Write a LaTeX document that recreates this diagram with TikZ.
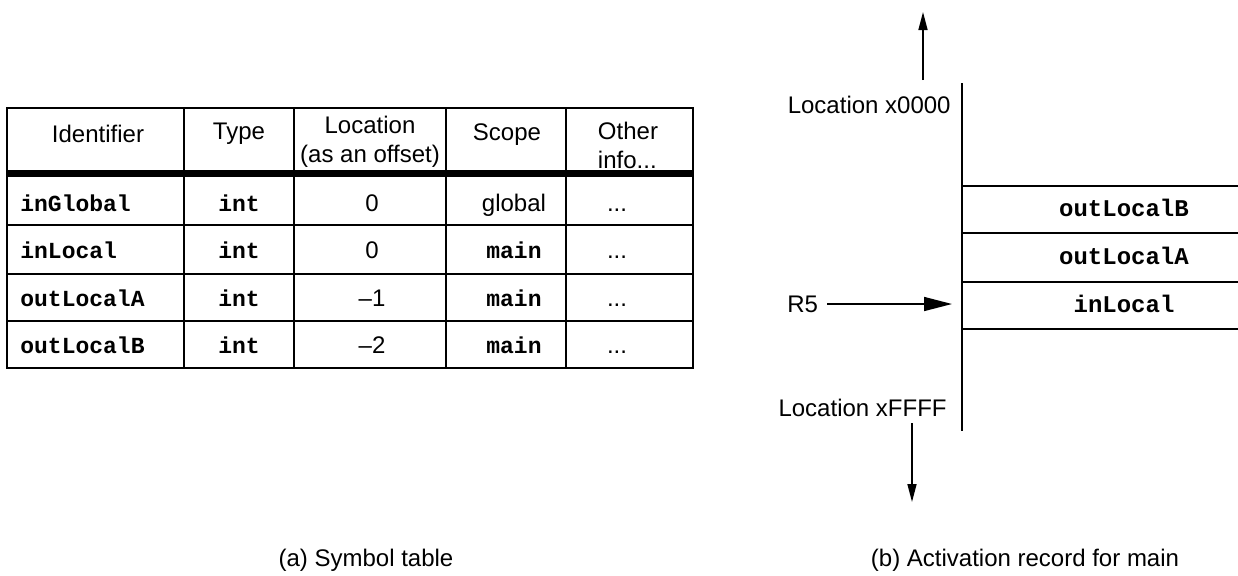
\documentclass[tikz,border=0pt]{standalone}
\usepackage{fontspec}
\setmainfont{Liberation Sans}
\setmonofont{Liberation Mono}
\usepackage{tikz}
\usetikzlibrary{arrows.meta,positioning}

\begin{document}
\begin{tikzpicture}[x=0.5pt, y=-0.5pt, font=\fontsize{12}{14.5}\selectfont]
    \tikzstyle{hcell} = [inner sep=0pt, align=center]
    \tikzstyle{idcell} = [inner sep=0pt, text height=9pt, text depth=2.5pt, anchor=west, font=\fontsize{11.5}{14}\selectfont\ttfamily\bfseries]
    \tikzstyle{tcell} = [inner sep=0pt, text height=9pt, text depth=2.5pt, font=\fontsize{11.5}{14}\selectfont\ttfamily\bfseries]
    \tikzstyle{vcell} = [inner sep=0pt, text height=9pt, text depth=2.5pt]
    \tikzstyle{grid} = [line width=1pt, black]
    \tikzstyle{stackline} = [line width=0.9pt, black]
    \tikzstyle{memarrow} = [line width=0.8pt, -{Triangle[length=9pt, width=4.5pt]}]
    \tikzstyle{regarrow} = [line width=0.8pt, -{Triangle[length=14pt, width=7pt]}]

    \useasboundingbox (0,0) rectangle (1238,575);

    % (a) symbol table
    \draw[grid] (7,108) rectangle (693,368);
    \draw[grid] (184,108) -- (184,368) (294,108) -- (294,368) (446,108) -- (446,368) (566,108) -- (566,368);
    \draw[grid] (7,225) -- (693,225) (7,274) -- (693,274) (7,321) -- (693,321);
    \draw[line width=3.5pt] (7,173.5) -- (693,173.5);

    \node[hcell] (hid) at (98,134) {Identifier};
    \node[hcell] (htype) at (239,134) {Type};
    \node[hcell] (hloc) at (370,142) {Location\\(as an offset)};
    \node[hcell] (hscope) at (507,135) {Scope};
    \node[hcell, align=left] (hinfo) at (628,145) {Other\\info...};

    \node[idcell] (idglobal) at (20,205) {inGlobal};
    \node[tcell] (tyglobal) at (239,205) {int};
    \node[vcell] (locglobal) at (372,205) {0};
    \node[vcell] (scglobal) at (514,205) {global};
    \node[vcell] (inglobal) at (617,205) {...};

    \node[idcell] (idlocal) at (20,252) {inLocal};
    \node[tcell] (tylocal) at (239,252) {int};
    \node[vcell] (loclocal) at (372,252) {0};
    \node[tcell] (sclocal) at (514,252) {main};
    \node[vcell] (inlocal) at (617,252) {...};

    \node[idcell] (idouta) at (20,300) {outLocalA};
    \node[tcell] (tyouta) at (239,300) {int};
    \node[vcell] (locouta) at (372,300) {–1};
    \node[tcell] (scouta) at (514,300) {main};
    \node[vcell] (inouta) at (617,300) {...};

    \node[idcell] (idoutb) at (20,347) {outLocalB};
    \node[tcell] (tyoutb) at (239,347) {int};
    \node[vcell] (locoutb) at (372,347) {–2};
    \node[tcell] (scoutb) at (514,347) {main};
    \node[vcell] (inoutb) at (617,347) {...};

    \node (capa) at (366,560) {(a) Symbol table};

    % (b) activation record
    \draw[stackline] (962,83) -- (962,431);
    \draw[stackline] (962,186) -- (1238,186) (962,233) -- (1238,233) (962,282) -- (1238,282) (962,329) -- (1238,329);
    \node[tcell, font=\fontsize{12}{14}\selectfont\ttfamily\bfseries] (recoutb) at (1124,210) {outLocalB};
    \node[tcell, font=\fontsize{12}{14}\selectfont\ttfamily\bfseries] (recouta) at (1124,258) {outLocalA};
    \node[tcell, font=\fontsize{12}{14}\selectfont\ttfamily\bfseries] (reclocal) at (1124,306) {inLocal};

    \node[inner sep=0pt, anchor=east] (loctop) at (951,105) {Location x0000};
    \node[inner sep=0pt, anchor=east] (locbot) at (947,408) {Location xFFFF};
    \node[inner sep=0pt, anchor=west] (r5) at (787,304) {R5};

    \coordinate (upfoot) at (923,80);
    \coordinate (uptip) at (923,12);
    \coordinate (downfoot) at (912,423);
    \coordinate (downtip) at (912,502);
    \coordinate (r5tip) at (952,304);

    \draw[memarrow] (upfoot) -- (uptip);
    \draw[memarrow] (downfoot) -- (downtip);
    \draw[regarrow] ([xshift=4.5pt]r5.east) -- (r5tip);

    \node (capb) at (1025,560) {(b) Activation record for main};
\end{tikzpicture}
\end{document}
